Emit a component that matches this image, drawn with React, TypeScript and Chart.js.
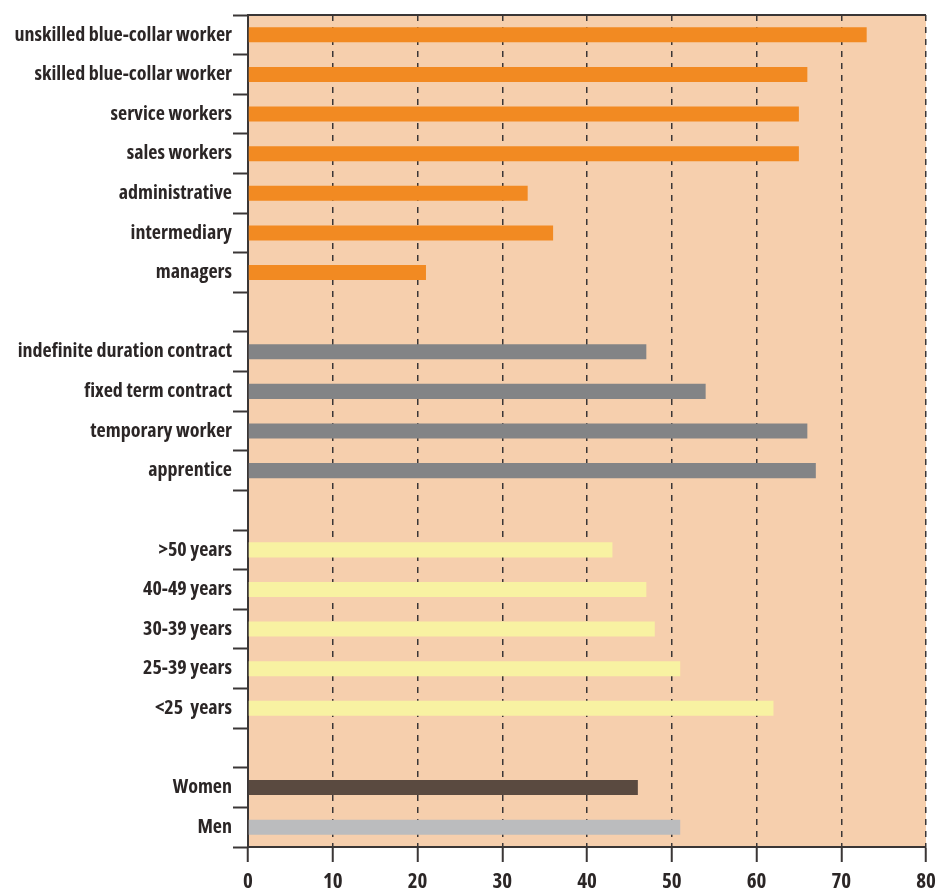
import React, { useEffect, useRef } from "react";
import { Chart, registerables } from "chart.js";

Chart.register(...registerables);

const categories = [
  "unskilled blue-collar worker",
  "skilled blue-collar worker",
  "service workers",
  "sales workers",
  "administrative",
  "intermediary",
  "managers",
  "",
  "indefinite duration contract",
  "fixed term contract",
  "temporary worker",
  "apprentice",
  " ",
  ">50 years",
  "40-49 years",
  "30-39 years",
  "25-39 years",
  "<25  years",
  "  ",
  "Women",
  "Men",
];

const values: (number | null)[] = [
  73, 66, 65, 65, 33, 36, 21,
  null,
  47, 54, 66, 67,
  null,
  43, 47, 48, 51, 62,
  null,
  46, 51,
];

const barColors = [
  "#F28A22", "#F28A22", "#F28A22", "#F28A22", "#F28A22", "#F28A22", "#F28A22",
  "#000000",
  "#838486", "#838486", "#838486", "#838486",
  "#000000",
  "#F8F2A2", "#F8F2A2", "#F8F2A2", "#F8F2A2", "#F8F2A2",
  "#000000",
  "#5A4A40", "#BBBCBE",
];

const xTicks = [0, 10, 20, 30, 40, 50, 60, 70, 80];

const FONT = "'Open Sans', 'Open Sans Condensed', sans-serif";
const AXIS = "#3a3636";
const TEXT = "#2b2626";

const bgPlugin = {
  id: "bgPlugin",
  beforeDraw(chart: any) {
    const { ctx, chartArea } = chart;
    ctx.save();
    ctx.fillStyle = "#F6CFAD";
    ctx.fillRect(chartArea.left, chartArea.top, chartArea.right - chartArea.left, chartArea.bottom - chartArea.top);
    ctx.restore();
  },
  afterDraw(chart: any) {
    const { ctx, chartArea } = chart;
    ctx.save();
    ctx.strokeStyle = AXIS;
    ctx.lineWidth = 2;
    ctx.beginPath();
    ctx.moveTo(chartArea.left, chartArea.top);
    ctx.lineTo(chartArea.right, chartArea.top);
    ctx.stroke();
    ctx.restore();
  },
};

export default function App() {
  const ref = useRef<HTMLCanvasElement>(null);
  useEffect(() => {
    if (!ref.current) return;
    const chart = new Chart(ref.current, {
      type: "bar",
      data: {
        labels: categories,
        datasets: [
          {
            data: values,
            backgroundColor: barColors,
            barPercentage: 0.38,
            categoryPercentage: 1,
          },
        ],
      },
      options: {
        indexAxis: "y",
        animation: false,
        responsive: true,
        maintainAspectRatio: false,
        layout: { padding: { top: 15, right: 13, left: 0, bottom: 0 } },
        plugins: { legend: { display: false }, tooltip: { enabled: false } },
        scales: {
          x: {
            min: 0,
            max: 80,
            afterBuildTicks: (s: any) => {
              s.ticks = xTicks.map((v) => ({ value: v }));
            },
            afterFit: (s: any) => {
              s.height = 46;
              s.paddingLeft = 0;
              s.paddingRight = 0;
            },
            grid: {
              color: AXIS,
              lineWidth: 1.5,
              tickLength: 15,
              tickColor: AXIS,
              tickWidth: 2,
              tickBorderDash: [],
            },
            border: { display: true, color: AXIS, width: 2, dash: [6, 6] },
            ticks: {
              color: TEXT,
              font: { family: FONT, size: 21, weight: "bold condensed" as any },
              padding: 7,
              maxRotation: 0,
            },
          },
          y: {
            afterFit: (s: any) => {
              s.width = 248;
            },
            grid: {
              offset: true,
              drawOnChartArea: false,
              tickLength: 15,
              tickColor: AXIS,
              tickWidth: 2,
              color: AXIS,
            },
            border: { display: true, color: AXIS, width: 2 },
            ticks: {
              color: TEXT,
              font: { family: FONT, size: 20, weight: "bold condensed" as any },
              padding: 1,
              autoSkip: false,
            },
          },
        },
      },
      plugins: [bgPlugin],
    });
    return () => chart.destroy();
  }, []);
  return (
    <div style={{ position: "fixed", left: 0, top: 0, width: 939, height: 893, background: "#fff" }}>
      <canvas ref={ref} />
    </div>
  );
}
